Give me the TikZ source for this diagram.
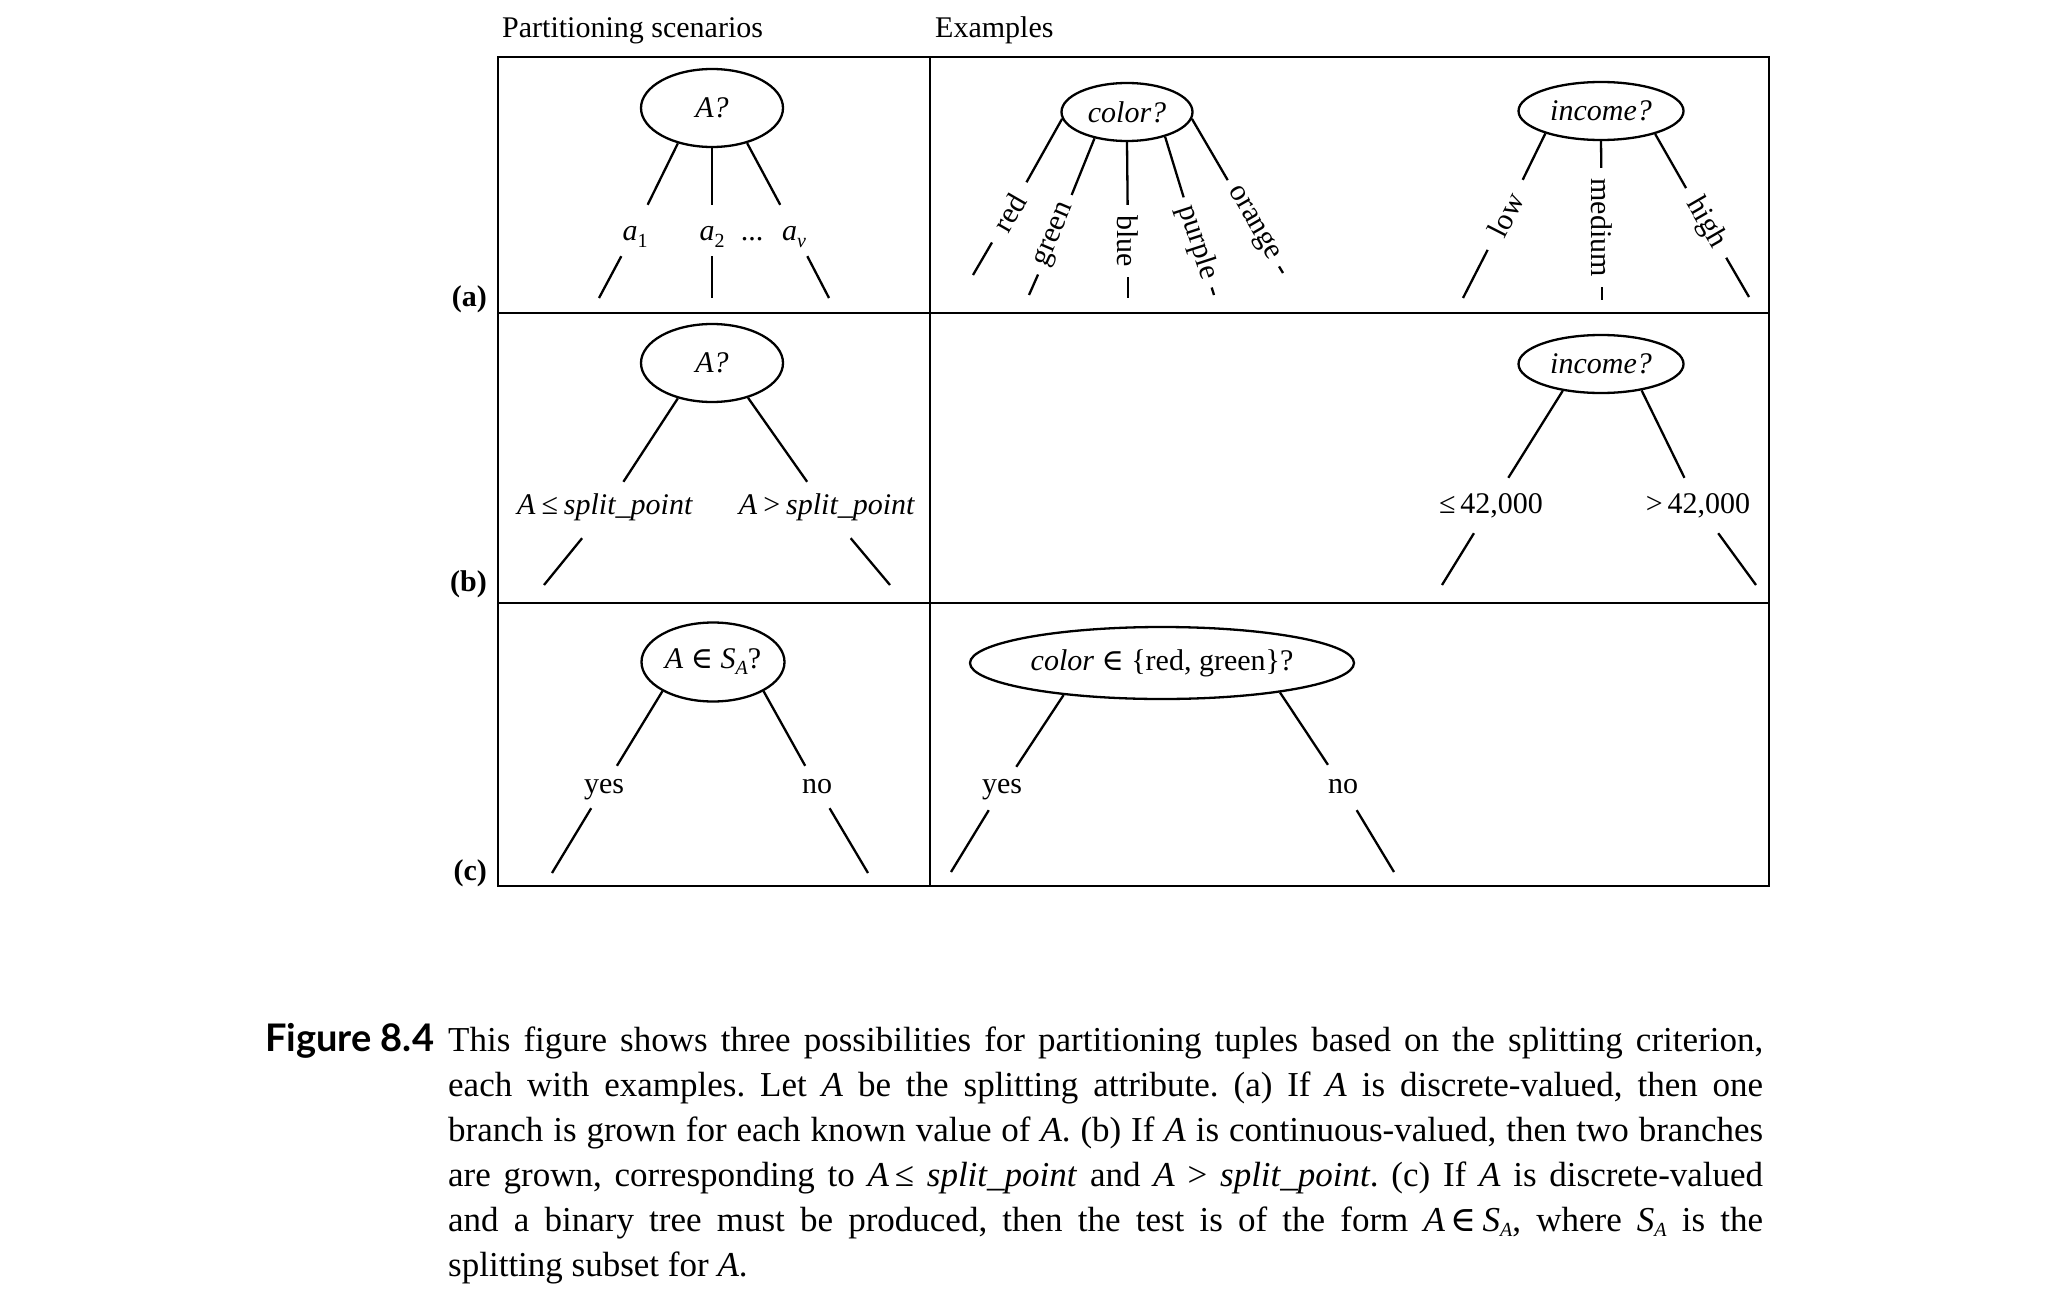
\documentclass[tikz,border=0pt]{standalone}
\usepackage{fontspec}
\setmainfont{Liberation Serif}
\newfontfamily\symfont{DejaVu Serif}
\newfontfamily\figfont{Lato}
\usetikzlibrary{shapes.geometric}
\newcommand\dsub[2][-7pt]{\raisebox{#1}{\fontsize{20}{20}\selectfont #2}}
\newcommand\isin{{\symfont ∈}}
\begin{document}
\begin{tikzpicture}[x=1pt,y=-1pt,
  txt/.style={font=\fontsize{30}{36}\selectfont, inner sep=0pt},
  tbl/.style={line width=2.8pt},
  br/.style={line width=2.3pt},
  test/.style={ellipse, draw, line width=2.3pt, inner sep=0pt, font=\fontsize{30}{36}\selectfont},
  lab/.style={font=\fontsize{30}{36}\selectfont, inner sep=0pt},
  rlab/.style={lab, minimum width=#1},
]
\useasboundingbox (0,0) rectangle (2048,1295);

% table
\draw[tbl] (498,57) rectangle (1769,886);
\draw[tbl] (930,57) -- (930,886);
\draw[tbl] (498,313) -- (1769,313);
\draw[tbl] (498,603) -- (1769,603);

% headers
\node[txt, anchor=base west] (h1) at (502,38) {Partitioning scenarios};
\node[txt, anchor=base west] (h2) at (935,38) {Examples};
\node[txt, anchor=base east, font=\fontsize{30}{36}\selectfont\bfseries] (ra) at (487,306) {(a)};
\node[txt, anchor=base east, font=\fontsize{30}{36}\selectfont\bfseries] (rb) at (487,591) {(b)};
\node[txt, anchor=base east, font=\fontsize{30}{36}\selectfont\bfseries] (rc) at (487,880) {(c)};

% ---- row (a), scenario
\node[test, minimum width=142, minimum height=78] (A1) at (712,108) {\textit{A?}};
\node[lab, anchor=base, text height=35, text depth=16, minimum width=40] (a1) at (635,240) {\textit{a}\dsub{1}};
\node[lab, anchor=base, text height=35, text depth=16, minimum width=40] (a2) at (712,240) {\textit{a}\dsub{2}};
\node[lab, anchor=base] (dots) at (752,240) {...};
\node[lab, anchor=base, text height=35, text depth=16, minimum width=40] (av) at (794,240) {\textit{a}\dsub{\textit{v}}};
\coordinate (a1e) at (599,298);
\coordinate (a2e) at (712,298);
\coordinate (ave) at (829,298);
\draw[br] (A1.226) -- (a1);
\draw[br] (a1) -- (a1e);
\draw[br] (A1.270) -- (a2);
\draw[br] (a2) -- (a2e);
\draw[br] (A1.315) -- (av);
\draw[br] (av) -- (ave);

% ---- row (a), color example
\node[test, minimum width=131, minimum height=58] (C1) at (1127,112) {\textit{color?}};
\node[rlab=69, rotate=60] (red) at (1009.5,212.5) {red};
\node[rlab=86, rotate=67] (green) at (1055.5,235) {green};
\node[rlab=72, rotate=-90] (blue) at (1128,241) {blue};
\node[rlab=94, rotate=-72] (purple) at (1197.5,242.5) {purple};
\node[rlab=100, rotate=-60] (orange) at (1253,223.5) {orange};
\coordinate (rede) at (973,275);
\coordinate (greene) at (1029,295);
\coordinate (bluee) at (1128,298);
\coordinate (purplee) at (1214,295);
\coordinate (orangee) at (1283,273);
\draw[br] (C1.186) -- (red);
\draw[br] (C1.219) -- (green);
\draw[br] (C1.270) -- (blue);
\draw[br] (C1.327) -- (purple);
\draw[br] (C1.354) -- (orange);
\draw[br] (red) -- (rede);
\draw[br] (green) -- (greene);
\draw[br] (blue) -- (bluee);
\draw[br] (purple) -- (purplee);
\draw[br] (orange) -- (orangee);

% ---- row (a), income example
\node[test, minimum width=165, minimum height=58] (I1) at (1601,111) {\textit{income?}};
\node[rlab=78, rotate=63] (low) at (1505.5,215) {low};
\node[rlab=119, rotate=-90] (medium) at (1602,227.5) {medium};
\node[rlab=80, rotate=-60] (high) at (1706,223) {high};
\coordinate (lowe) at (1463,298);
\coordinate (mediume) at (1602,300);
\coordinate (highe) at (1749,297);
\draw[br] (I1.202) -- (low);
\draw[br] (low) -- (lowe);
\draw[br] (I1.270) -- (medium);
\draw[br] (medium) -- (mediume);
\draw[br] (I1.337) -- (high);
\draw[br] (high) -- (highe);

% ---- row (b), scenario
\node[test, minimum width=142, minimum height=78] (A2) at (712,363) {\textit{A?}};
\node[lab, anchor=base, text height=32, text depth=24] (le) at (605,514) {\textit{A}\hspace{0.2em}≤\hspace{0.2em}\textit{split\_point}};
\node[lab, anchor=base, text height=32, text depth=24] (gt) at (827,514) {\textit{A}\hspace{0.2em}>\hspace{0.2em}\textit{split\_point}};
\coordinate (lee) at (544,585);
\coordinate (gte) at (890,585);
\draw[br] (A2.226) -- (le);
\draw[br] (le) -- (lee);
\draw[br] (A2.316) -- (gt);
\draw[br] (gt) -- (gte);

% ---- row (b), income example
\node[test, minimum width=165, minimum height=58] (I2) at (1601,364) {\textit{income?}};
\node[lab, anchor=base, text height=35, text depth=20] (le2) at (1491,513) {≤\,42,000};
\node[lab, anchor=base, text height=35, text depth=20] (gt2) at (1698,513) {>\,42,000};
\coordinate (le2e) at (1442,585);
\coordinate (gt2e) at (1756,585);
\draw[br] (I2.215) -- (le2);
\draw[br] (le2) -- (le2e);
\draw[br] (I2.327) -- (gt2);
\draw[br] (gt2) -- (gt2e);

% ---- row (c), scenario
\node[test, minimum width=143, minimum height=79] (A3) at (713,662) {\textit{A} \isin\ \textit{S}\dsub[-6pt]{\textit{A}}?};
\node[lab, anchor=base, text height=27, text depth=15] (y1) at (604,793) {yes};
\node[lab, anchor=base, text height=27, text depth=15] (n1) at (817,793) {no};
\coordinate (y1e) at (552,873);
\coordinate (n1e) at (868,873);
\draw[br] (A3.210) -- (y1);
\draw[br] (y1) -- (y1e);
\draw[br] (A3.330) -- (n1);
\draw[br] (n1) -- (n1e);

% ---- row (c), color example
\node[test, minimum width=384, minimum height=72] (C2) at (1162,663) {\textit{color} \isin\ \{red, green\}?};
\node[lab, anchor=base, text height=26, text depth=17] (y2) at (1002,793) {yes};
\node[lab, anchor=base, text height=28, text depth=17] (n2) at (1343,793) {no};
\coordinate (y2e) at (951,872);
\coordinate (n2e) at (1394,872);
\draw[br] (C2.198) -- (y2);
\draw[br] (y2) -- (y2e);
\draw[br] (C2.346) -- (n2);
\draw[br] (n2) -- (n2e);

% ---- caption
\node[anchor=base west, inner sep=0pt, font=\figfont\bfseries\fontsize{38}{45}\selectfont] (fig) at (265,1051) {Figure 8.4};
\node[anchor=base west, inner sep=0pt, text width=1315pt, align=justify,
      font=\fontsize{35}{45}\selectfont] (cap) at (448,1051)
 {\frenchspacing\hyphenpenalty=10000 This figure shows three possibilities for partitioning tuples based on the splitting criterion,\linebreak
 each with examples. Let \textit{A} be the splitting attribute. (a) If \textit{A} is discrete-valued, then one\linebreak
 branch is grown for each known value of \textit{A}. (b) If \textit{A} is continuous-valued, then two branches\linebreak
 are grown, corresponding to \textit{A}\,≤ \textit{split\_point} and \textit{A} > \textit{split\_point}. (c) If \textit{A} is discrete-valued\linebreak
 and a binary tree must be produced, then the test is of the form \textit{A}\,\isin\,\textit{S}\dsub[-5pt]{\textit{A}}, where \textit{S}\dsub[-5pt]{\textit{A}} is the\linebreak
 splitting subset for \textit{A}.};
\end{tikzpicture}
\end{document}
